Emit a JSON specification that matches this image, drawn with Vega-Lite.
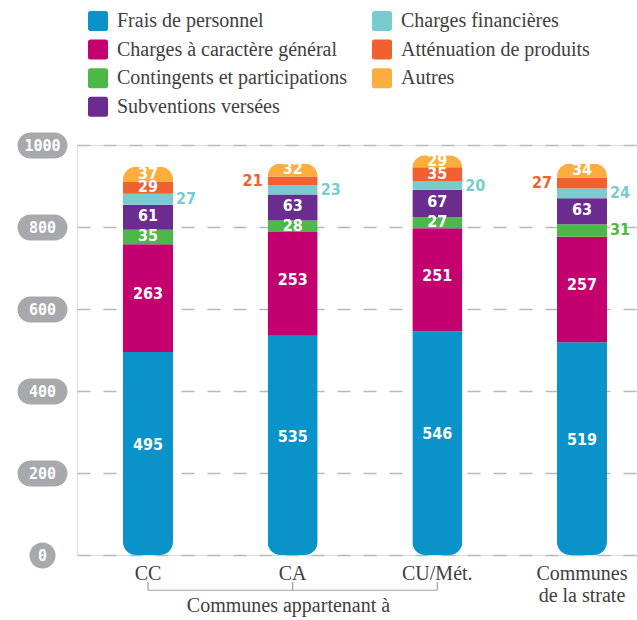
{
  "$schema": "https://vega.github.io/schema/vega-lite/v6.json",
  "width": 560,
  "height": 410,
  "autosize": "none",
  "padding": {"left": 77, "top": 145, "right": 0, "bottom": 65},
  "background": "white",
  "datasets": {
    "main": [
      {"group": "CC", "cat": "Frais de personnel", "value": 495},
      {"group": "CC", "cat": "Charges à caractère général", "value": 263},
      {"group": "CC", "cat": "Contingents et participations", "value": 35},
      {"group": "CC", "cat": "Subventions versées", "value": 61},
      {"group": "CC", "cat": "Charges financières", "value": 27},
      {"group": "CC", "cat": "Atténuation de produits", "value": 29},
      {"group": "CC", "cat": "Autres", "value": 37},
      {"group": "CA", "cat": "Frais de personnel", "value": 535},
      {"group": "CA", "cat": "Charges à caractère général", "value": 253},
      {"group": "CA", "cat": "Contingents et participations", "value": 28},
      {"group": "CA", "cat": "Subventions versées", "value": 63},
      {"group": "CA", "cat": "Charges financières", "value": 23},
      {"group": "CA", "cat": "Atténuation de produits", "value": 21},
      {"group": "CA", "cat": "Autres", "value": 32},
      {"group": "CU/Mét.", "cat": "Frais de personnel", "value": 546},
      {"group": "CU/Mét.", "cat": "Charges à caractère général", "value": 251},
      {"group": "CU/Mét.", "cat": "Contingents et participations", "value": 27},
      {"group": "CU/Mét.", "cat": "Subventions versées", "value": 67},
      {"group": "CU/Mét.", "cat": "Charges financières", "value": 20},
      {"group": "CU/Mét.", "cat": "Atténuation de produits", "value": 35},
      {"group": "CU/Mét.", "cat": "Autres", "value": 29},
      {"group": "Communes de la strate", "cat": "Frais de personnel", "value": 519},
      {"group": "Communes de la strate", "cat": "Charges à caractère général", "value": 257},
      {"group": "Communes de la strate", "cat": "Contingents et participations", "value": 31},
      {"group": "Communes de la strate", "cat": "Subventions versées", "value": 63},
      {"group": "Communes de la strate", "cat": "Charges financières", "value": 24},
      {"group": "Communes de la strate", "cat": "Atténuation de produits", "value": 27},
      {"group": "Communes de la strate", "cat": "Autres", "value": 34}
    ],
    "ticks": [{"group": "CC"}, {"group": "CA"}, {"group": "CU/Mét."}],
    "span": [{"from": "CC", "to": "CU/Mét."}]
  },
  "encoding": {
    "x": {
      "field": "group", "type": "nominal",
      "scale": {"domain": ["CC", "CA", "CU/Mét.", "Communes de la strate"], "paddingInner": 0.654, "paddingOuter": 0.2625, "align": 0.605},
      "axis": {
        "labelAngle": 0, "ticks": false, "domain": false, "grid": false,
        "labelFont": "Liberation Sans Narrow", "labelFontSize": 20, "labelColor": "#404040",
        "labelPadding": 8, "labelLineHeight": 22, "labelBaseline": "top",
        "labelExpr": "datum.value == 'Communes de la strate' ? ['Communes', 'de la strate'] : datum.value",
        "title": "Communes appartenant à", "titleFont": "Liberation Sans Narrow", "titleFontSize": 20,
        "titleFontWeight": "normal", "titleColor": "#404040", "titleX": 211, "titleY": 50,
        "titleBaseline": "middle", "titleAlign": "center", "titleAnchor": null
      }
    }
  },
  "layer": [
    {
      "data": {"name": "main"},
      "transform": [{"window": [{"op": "row_number", "as": "rank"}], "groupby": ["group"]}],
      "mark": {"type": "bar", "cornerRadius": 13},
      "encoding": {
        "y": {
          "field": "value", "type": "quantitative", "stack": "zero",
          "scale": {"domain": [0, 1000], "nice": false},
          "axis": {
            "values": [0, 200, 400, 600, 800, 1000], "format": "d",
            "domain": false, "offset": 23, "tickSize": 24, "tickWidth": 26, "tickCap": "round",
            "tickColor": "#a7a9ac",
            "tickDash": {"condition": {"test": "datum.value == 0", "value": [0, 100]}, "value": []},
            "tickDashOffset": {"condition": {"test": "datum.value == 0", "value": -12}, "value": 0},
            "labelPadding": -12, "labelAlign": "center", "labelBaseline": "middle",
            "labelColor": "white", "labelFont": "DejaVu Sans Mono", "labelFontWeight": "bold", "labelFontSize": 15,
            "grid": true, "gridDash": [13, 13], "gridColor": "#b8b8b8", "gridWidth": 1.5,
            "title": null
          }
        },
        "color": {
          "field": "cat", "type": "nominal",
          "scale": {
            "domain": ["Frais de personnel", "Charges financières", "Charges à caractère général", "Atténuation de produits", "Contingents et participations", "Autres", "Subventions versées"],
            "range": ["#0a93c9", "#78ccd0", "#c4006f", "#f1612f", "#4cb848", "#fbad3e", "#6b2c8f"]
          },
          "legend": {
            "orient": "none", "legendX": 11, "legendY": -134, "columns": 2, "direction": "horizontal",
            "title": null,
            "symbolType": "M-0.75,-1 L0.75,-1 Q1,-1 1,-0.75 L1,0.75 Q1,1 0.75,1 L-0.75,1 Q-1,1 -1,0.75 L-1,-0.75 Q-1,-1 -0.75,-1 Z",
            "symbolSize": 400, "symbolStrokeWidth": 0, "symbolOpacity": 1,
            "labelFont": "Liberation Sans Narrow", "labelFontSize": 20, "labelColor": "#404040",
            "labelOffset": 9, "rowPadding": 8.6, "columnPadding": 25, "labelLimit": 400
          }
        },
        "order": {"field": "rank", "type": "quantitative"}
      }
    },
    {
      "data": {"name": "main"},
      "transform": [{"window": [{"op": "row_number", "as": "rank"}], "groupby": ["group"]}],
      "mark": {"type": "text", "font": "DejaVu Sans Condensed, Roboto", "fontWeight": "bold", "fontSize": 16, "baseline": "middle", "align": "center", "color": "white"},
      "encoding": {
        "y": {"field": "value", "type": "quantitative", "stack": "zero", "bandPosition": 0.54},
        "detail": {"field": "cat"},
        "order": {"field": "rank", "type": "quantitative"},
        "text": {
          "condition": {"test": "!(datum.cat == 'Charges financières' || (datum.group == 'Communes de la strate' && datum.cat == 'Contingents et participations') || (datum.cat == 'Atténuation de produits' && (datum.group == 'CA' || datum.group == 'Communes de la strate')))", "field": "value", "type": "quantitative"},
          "value": ""
        }
      }
    },
    {
      "data": {"name": "main"},
      "transform": [{"window": [{"op": "row_number", "as": "rank"}], "groupby": ["group"]}],
      "mark": {"type": "text", "font": "DejaVu Sans Condensed, Roboto", "fontWeight": "bold", "fontSize": 16, "baseline": "middle", "align": "left", "dx": 28},
      "encoding": {
        "y": {"field": "value", "type": "quantitative", "stack": "zero", "bandPosition": 0.5},
        "color": {"field": "cat", "type": "nominal", "legend": null},
        "order": {"field": "rank", "type": "quantitative"},
        "text": {
          "condition": {"test": "datum.cat == 'Charges financières' || (datum.group == 'Communes de la strate' && datum.cat == 'Contingents et participations')", "field": "value", "type": "quantitative"},
          "value": ""
        }
      }
    },
    {
      "data": {"name": "main"},
      "transform": [{"window": [{"op": "row_number", "as": "rank"}], "groupby": ["group"]}],
      "mark": {"type": "text", "font": "DejaVu Sans Condensed, Roboto", "fontWeight": "bold", "fontSize": 16, "baseline": "middle", "align": "right", "dx": -30},
      "encoding": {
        "y": {"field": "value", "type": "quantitative", "stack": "zero", "bandPosition": 0.5},
        "color": {"field": "cat", "type": "nominal", "legend": null},
        "order": {"field": "rank", "type": "quantitative"},
        "text": {
          "condition": {"test": "datum.cat == 'Atténuation de produits' && (datum.group == 'CA' || datum.group == 'Communes de la strate')", "field": "value", "type": "quantitative"},
          "value": ""
        }
      }
    },
    {
      "data": {"name": "ticks"},
      "mark": {"type": "rule", "color": "#a0a0a0", "strokeWidth": 1.2},
      "encoding": {
        "y": {"datum": -66},
        "y2": {"datum": -86}
      }
    },
    {
      "data": {"name": "span"},
      "mark": {"type": "rule", "color": "#a0a0a0", "strokeWidth": 1.2},
      "encoding": {
        "x": {"field": "from", "type": "nominal"},
        "x2": {"field": "to"},
        "y": {"datum": -86}
      }
    }
  ]
}
